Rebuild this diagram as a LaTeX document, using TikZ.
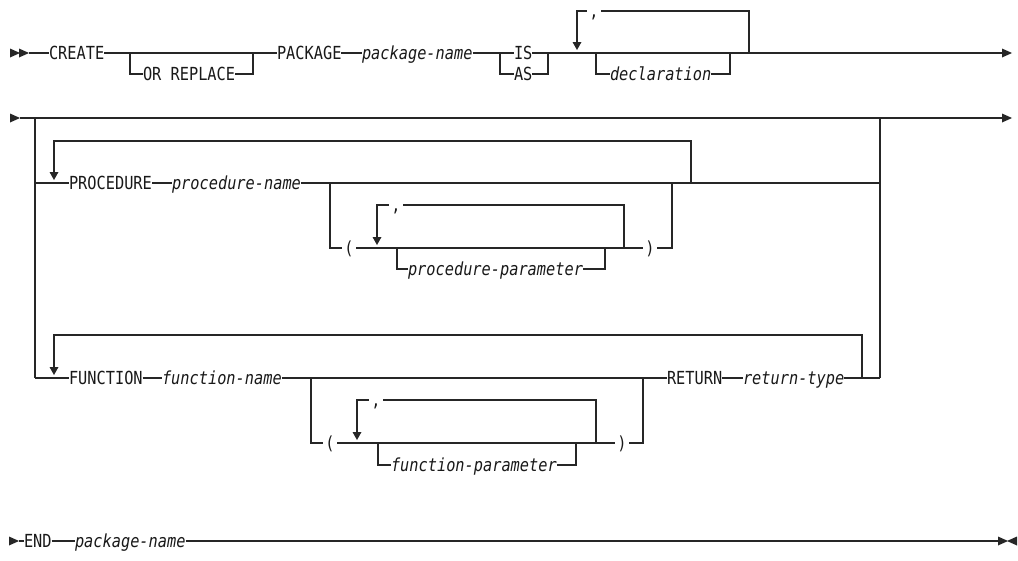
\documentclass[tikz,border=0pt]{standalone}
\usepackage{fontspec}
\newfontfamily\dfont[FakeStretch=0.85]{DejaVu Sans Mono}
\tikzset{
  kw/.style={font=\dfont\fontsize{18}{20}\selectfont, text=black!90, inner sep=0pt, outer sep=0pt, anchor=west, text height=13pt, text depth=0pt},
  var/.style={kw, font=\dfont\itshape\fontsize{18}{20}\selectfont},
  sym/.style={kw, anchor=center, inner xsep=2.5pt},
  ln/.style={line width=1.1pt, draw=black!85},
  downtip/.pic={\fill[black!85] (-4.5,-11) -- (4.5,-11) -- (0,-3) -- cycle;},
  righttip/.pic={\fill[black!85] (-10,-4.5) -- (0,0) -- (-10,4.5) -- cycle;}
}
\begin{document}
\begin{tikzpicture}[x=1pt,y=-1pt]
\useasboundingbox (0,0) rectangle (1018,560);
% ---------------- line 1 ----------------
\pic at (20,53) {righttip};
\pic at (29,53) {righttip};
\coordinate (s1e) at (29,53);
\node[kw] (create) at (49,53) {CREATE};
\coordinate (j1a) at (130,53); \coordinate (j1b) at (130,74);
\node[kw] (orrep) at (143,74) {OR REPLACE};
\coordinate (j2a) at (253,53); \coordinate (j2b) at (253,74);
\node[kw] (package) at (277,53) {PACKAGE};
\node[var] (pkgname) at (362,53) {package-name};
\coordinate (j3a) at (500,53); \coordinate (j3b) at (500,74);
\node[kw] (is) at (514,53) {IS};
\node[kw] (as) at (514,74) {AS};
\coordinate (j4a) at (548,53); \coordinate (j4b) at (548,74);
\coordinate (l1t) at (577,11); \coordinate (l1a) at (577,42);
\node[sym] (c1) at (594,11) {,};
\coordinate (l1r) at (749,11); \coordinate (l1rb) at (749,53);
\coordinate (j5a) at (596,53); \coordinate (j5b) at (596,74);
\node[var] (decl) at (610,74) {declaration};
\coordinate (j6a) at (730,53); \coordinate (j6b) at (730,74);
\coordinate (e1) at (1003,53);
\draw[ln] (s1e) -- (create.west);
\draw[ln] (create.east) -- (package.west);
\draw[ln] (j1a) -- (j1b) -- (orrep.west);
\draw[ln] (orrep.east) -- (j2b) -- (j2a);
\draw[ln] (package.east) -- (pkgname.west);
\draw[ln] (pkgname.east) -- (is.west);
\draw[ln] (j3a) -- (j3b) -- (as.west);
\draw[ln] (is.east) -- (e1);
\draw[ln] (as.east) -- (j4b) -- (j4a);
\draw[ln] (l1rb) -- (l1r) -- (c1.east);
\draw[ln] (c1.west) -- (l1t) -- (l1a);
\pic at (577,53) {downtip};
\draw[ln] (j5a) -- (j5b) -- (decl.west);
\draw[ln] (decl.east) -- (j6b) -- (j6a);
\pic at (1012,53) {righttip};
% ---------------- line 2 ----------------
\pic at (20,118) {righttip};
\coordinate (s2e) at (20,118);
\coordinate (e2) at (1003,118);
\draw[ln] (s2e) -- (e2);
\pic at (1012,118) {righttip};
\coordinate (L1) at (35,118); \coordinate (L2) at (35,378);
\coordinate (p0) at (35,183);
\draw[ln] (L1) -- (L2);
\coordinate (R1) at (880,118); \coordinate (R2) at (880,378);
\draw[ln] (R1) -- (R2);
% PROCEDURE
\node[kw] (proc) at (69,183) {PROCEDURE};
\node[var] (procname) at (172,183) {procedure-name};
\coordinate (pR) at (880,183);
\draw[ln] (p0) -- (proc.west);
\draw[ln] (proc.east) -- (procname.west);
\draw[ln] (procname.east) -- (pR);
\coordinate (pl1) at (691,183); \coordinate (pl2) at (691,141);
\coordinate (pl3) at (54,141); \coordinate (pl4) at (54,172);
\draw[ln] (pl1) -- (pl2) -- (pl3) -- (pl4);
\pic at (54,183) {downtip};
\coordinate (po1) at (330,183); \coordinate (po2) at (330,248);
\node[sym] (popen) at (349,248) {(};
\node[sym] (pclose) at (650,248) {)};
\coordinate (po3) at (672,248); \coordinate (po4) at (672,183);
\draw[ln] (po1) -- (po2) -- (popen.west);
\draw[ln] (popen.east) -- (pclose.west);
\draw[ln] (pclose.east) -- (po3) -- (po4);
\coordinate (pq1) at (624,248); \coordinate (pq2) at (624,205);
\node[sym] (pc) at (396,205) {,};
\coordinate (pq3) at (377,205); \coordinate (pq4) at (377,237);
\draw[ln] (pq1) -- (pq2) -- (pc.east);
\draw[ln] (pc.west) -- (pq3) -- (pq4);
\pic at (377,248) {downtip};
\coordinate (pb1) at (397,248); \coordinate (pb2) at (397,269);
\node[var] (pparam) at (408,269) {procedure-parameter};
\coordinate (pb3) at (605,269); \coordinate (pb4) at (605,248);
\draw[ln] (pb1) -- (pb2) -- (pparam.west);
\draw[ln] (pparam.east) -- (pb3) -- (pb4);
% FUNCTION
\node[kw] (func) at (69,378) {FUNCTION};
\node[var] (funcname) at (162,378) {function-name};
\node[kw] (ret) at (667,378) {RETURN};
\node[var] (rettype) at (743,378) {return-type};
\draw[ln] (L2) -- (func.west);
\draw[ln] (func.east) -- (funcname.west);
\draw[ln] (funcname.east) -- (ret.west);
\draw[ln] (ret.east) -- (rettype.west);
\draw[ln] (rettype.east) -- (R2);
\coordinate (fl1) at (862,378); \coordinate (fl2) at (862,335);
\coordinate (fl3) at (54,335); \coordinate (fl4) at (54,367);
\draw[ln] (fl1) -- (fl2) -- (fl3) -- (fl4);
\pic at (54,378) {downtip};
\coordinate (fo1) at (311,378); \coordinate (fo2) at (311,443);
\node[sym] (fopen) at (330,443) {(};
\node[sym] (fclose) at (622,443) {)};
\coordinate (fo3) at (643,443); \coordinate (fo4) at (643,378);
\draw[ln] (fo1) -- (fo2) -- (fopen.west);
\draw[ln] (fopen.east) -- (fclose.west);
\draw[ln] (fclose.east) -- (fo3) -- (fo4);
\coordinate (fq1) at (596,443); \coordinate (fq2) at (596,400);
\node[sym] (fc) at (376,400) {,};
\coordinate (fq3) at (357,400); \coordinate (fq4) at (357,432);
\draw[ln] (fq1) -- (fq2) -- (fc.east);
\draw[ln] (fc.west) -- (fq3) -- (fq4);
\pic at (357,443) {downtip};
\coordinate (fb1) at (378,443); \coordinate (fb2) at (378,465);
\node[var] (fparam) at (391,465) {function-parameter};
\coordinate (fb3) at (576,465); \coordinate (fb4) at (576,443);
\draw[ln] (fb1) -- (fb2) -- (fparam.west);
\draw[ln] (fparam.east) -- (fb3) -- (fb4);
% ---------------- line 3 ----------------
\pic at (19,541) {righttip};
\coordinate (s3e) at (19,541);
\node[kw] (endkw) at (24,541) {END};
\node[var] (pkg2) at (75,541) {package-name};
\coordinate (e3) at (999,541);
\draw[ln] (s3e) -- (endkw.west);
\draw[ln] (endkw.east) -- (pkg2.west);
\draw[ln] (pkg2.east) -- (e3);
\pic at (1008,541) {righttip};
\fill[black!85] (1017,536.5) -- (1007,541) -- (1017,545.5) -- cycle;
\end{tikzpicture}
\end{document}
